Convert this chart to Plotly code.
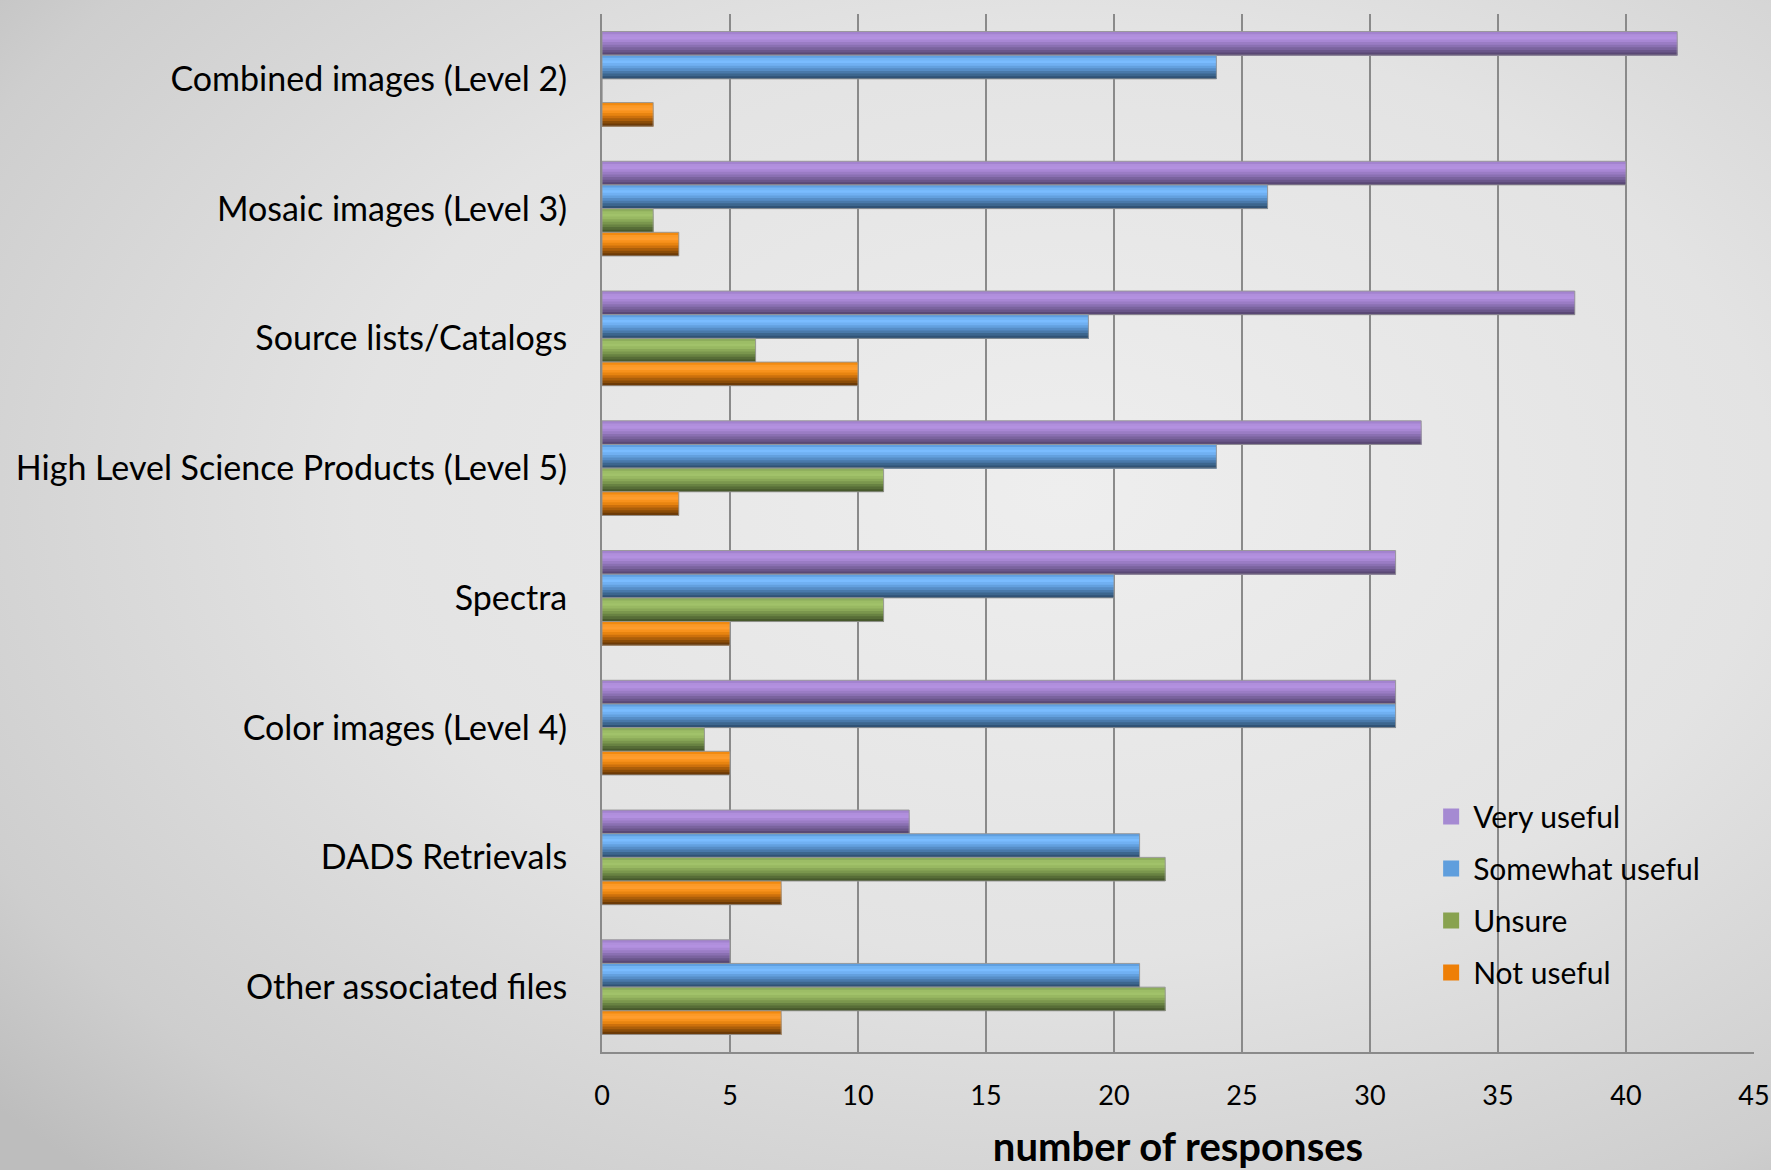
import base64
import plotly.graph_objects as go

categories = [
    "Combined images (Level 2)",
    "Mosaic images (Level 3)",
    "Source lists/Catalogs",
    "High Level Science Products (Level 5)",
    "Spectra",
    "Color images (Level 4)",
    "DADS Retrievals",
    "Other associated files",
]
very_useful = [42, 40, 38, 32, 31, 31, 12, 5]
somewhat_useful = [24, 26, 19, 24, 20, 31, 21, 21]
unsure = [0, 2, 6, 11, 11, 4, 22, 22]
not_useful = [2, 3, 10, 3, 5, 5, 7, 7]
x_ticks = [0, 5, 10, 15, 20, 25, 30, 35, 40, 45]

# (name, values, legend colour, cylinder shading top->bottom)
series = [
    ("Very useful", very_useful, "#a58ad2",
     ["#a383cf", "#b08fdc", "#b391e0", "#a887d4", "#9a7cc4", "#8a70b2", "#7a639e", "#6a568a", "#5a4875"]),
    ("Somewhat useful", somewhat_useful, "#5f9edd",
     ["#5f9fe0", "#72b4f4", "#7abcff", "#70b0f2", "#63a0de", "#568dc6", "#4979aa", "#3c668e", "#305275"]),
    ("Unsure", unsure, "#88a24f",
     ["#8dad5c", "#9cbd66", "#a1c26a", "#98b862", "#8aa858", "#7a964d", "#688242", "#576d37", "#47592c"]),
    ("Not useful", not_useful, "#ee7f06",
     ["#f28a10", "#fb9a28", "#ff9d2e", "#f8921c", "#e88410", "#cc700c", "#ab5e0a", "#8a4c08", "#6c3a06"]),
]

W, H = 1771, 1170
ml, mr, mt, mb = 602, 17, 14, 118
pw, ph = W - ml - mr, H - mt - mb

svg = f"""<svg xmlns='http://www.w3.org/2000/svg' width='{W}' height='{H}' viewBox='0 0 {W} {H}' preserveAspectRatio='none'>
<defs><radialGradient id='g' cx='0.6' cy='0.42' r='0.8'>
<stop offset='0' stop-color='#eeeeee'/>
<stop offset='0.5' stop-color='#e3e3e3'/>
<stop offset='0.85' stop-color='#cecece'/>
<stop offset='1' stop-color='#bdbdbd'/>
</radialGradient></defs>
<rect width='{W}' height='{H}' fill='url(#g)'/>
</svg>"""
src = "data:image/svg+xml;base64," + base64.b64encode(svg.encode()).decode()

group_w = 0.73
bar_w = group_w / len(series)
fig = go.Figure()
for i, (name, vals, lc, shades) in enumerate(series):
    n = len(shades)
    sw = bar_w / n
    top = -group_w / 2 + i * bar_w
    for k, c in enumerate(shades):
        # each shade band runs from its own top edge down to the bar's bottom edge,
        # later bands overlay earlier ones -> seamless cylinder shading
        fig.add_trace(go.Bar(
            y=categories, x=vals, orientation="h", showlegend=False,
            width=bar_w - k * sw, offset=top + k * sw,
            marker=dict(color=c, line=dict(width=0)), hoverinfo="skip",
        ))
    fig.add_trace(go.Bar(
        y=categories, x=vals, orientation="h", name=name, showlegend=False,
        width=bar_w, offset=top,
        marker=dict(color="rgba(0,0,0,0)", line=dict(color="rgba(150,150,150,0.9)", width=1)),
    ))
    fig.add_trace(go.Scatter(
        x=[None], y=[None], mode="markers", name=name, legendgroup=name,
        marker=dict(symbol="square", size=19, color=lc),
    ))

fig.update_layout(
    width=W, height=H,
    margin=dict(l=ml, r=mr, t=mt, b=mb, autoexpand=False),
    barmode="overlay",
    paper_bgcolor="#cfcfcf", plot_bgcolor="rgba(0,0,0,0)",
    font=dict(family="Lato, 'Open Sans', sans-serif", color="#000"),
    images=[dict(source=src, xref="paper", yref="paper",
                 x=-ml / pw, y=1 + mt / ph, sizex=W / pw, sizey=H / ph,
                 xanchor="left", yanchor="top", sizing="stretch", layer="below")],
    legend=dict(x=0.718, y=0.252, xanchor="left", yanchor="top",
                bgcolor="rgba(0,0,0,0)", font=dict(size=30),
                traceorder="grouped", tracegroupgap=10, itemwidth=34),
    showlegend=True,
)
fig.update_xaxes(
    range=[0, 45], tickvals=x_ticks, showgrid=True, gridcolor="#8a8a8a", gridwidth=2,
    showline=True, linecolor="#8a8a8a", linewidth=2, zeroline=False, automargin=False,
    tickfont=dict(size=27), ticks="", ticklabelstandoff=19,
    title=dict(text="<b>number of responses</b>", font=dict(size=40), standoff=24),
)
fig.update_yaxes(
    autorange="reversed", showline=True, linecolor="#8a8a8a", linewidth=2, automargin=False,
    tickfont=dict(size=34), ticks="", ticklabelstandoff=26, showgrid=False,
)
fig.write_html(
    "out.html",
    config={"displayModeBar": False},
    post_script="document.body.style.margin='0';document.body.style.background='#cfcfcf';",
)
